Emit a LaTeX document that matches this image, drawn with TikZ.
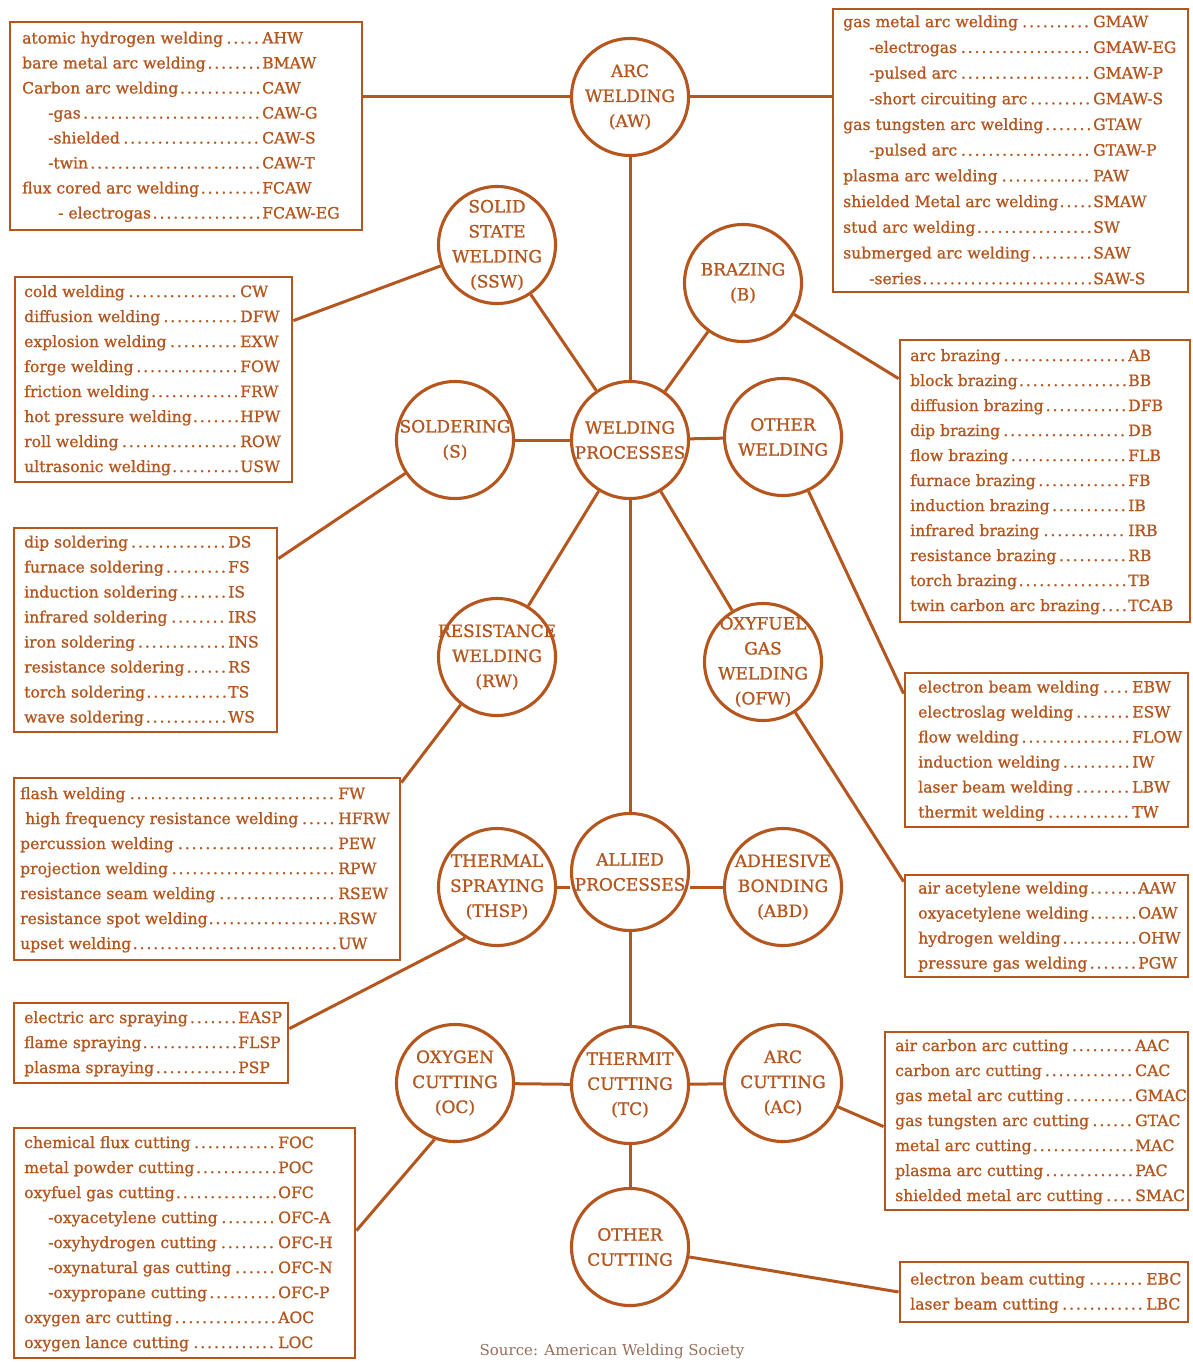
\documentclass[tikz,border=0pt]{standalone}
\usepackage{fontspec}
\setmainfont{DejaVu Serif}
\newfontface\heavyserif{DejaVu Serif}[FakeBold=1.1]
\usetikzlibrary{calc}
\definecolor{brn}{RGB}{180,86,30}
\definecolor{srcgray}{RGB}{150,112,92}
\newlength\abw
\newcommand\rw[2]{\makebox[\abw][l]{#1\dotfill}#2}
\newcommand\ri[3][26pt]{\makebox[\abw][l]{\hspace*{#1}#2\dotfill}#3}
\tikzset{
  wcirc/.style={circle, draw=brn, line width=3.1pt, minimum size=117pt, inner sep=0pt},
  ctxt/.style={text=brn, align=center, inner sep=0pt, font=\heavyserif\fontsize{17}{25}\selectfont},
  lbox/.style={draw=brn, line width=2.8pt, inner sep=0pt},
  btxt/.style={text=brn, anchor=west, inner sep=0pt, font=\heavyserif\fontsize{15.6}{25}\selectfont},
  link/.style={draw=brn, line width=3pt},
}
\begin{document}
\begin{tikzpicture}[x=1pt,y=-1pt]
\fill[white] (0,0) rectangle (1193,1362);
\useasboundingbox (0,0) rectangle (1193,1362);

% ---------- circles ----------
\node[wcirc] (aw)   at (630,97)   {};
\node[wcirc] (ssw)  at (497,245)  {};
\node[wcirc] (brz)  at (743,283)  {};
\node[wcirc] (sol)  at (455,440)  {};
\node[wcirc] (wp)   at (630,440)  {};
\node[wcirc] (oth)  at (783,437)  {};
\node[wcirc] (rw)   at (497,657)  {};
\node[wcirc] (ofw)  at (763,662)  {};
\node[wcirc] (ap)   at (630,872)  {};
\node[wcirc] (thsp) at (497,887)  {};
\node[wcirc] (abd)  at (783,887)  {};
\node[wcirc] (oc)   at (455,1083) {};
\node[wcirc] (tc)   at (630,1085) {};
\node[wcirc] (ac)   at (783,1083) {};
\node[wcirc] (ocut) at (630,1247) {};

\node[ctxt] (awt)   at (aw)   {ARC\\WELDING\\(AW)};
\node[ctxt] (sswt)  at (ssw)  {SOLID\\STATE\\WELDING\\(SSW)};
\node[ctxt] (brzt)  at (brz)  {BRAZING\\(B)};
\node[ctxt] (solt)  at (sol)  {SOLDERING\\(S)};
\node[ctxt] (wpt)   at (wp)   {WELDING\\PROCESSES};
\node[ctxt] (otht)  at (oth)  {OTHER\\WELDING};
\node[ctxt] (rwt)   at (rw)   {RESISTANCE\\WELDING\\(RW)};
\node[ctxt] (ofwt)  at (ofw)  {OXYFUEL\\GAS\\WELDING\\(OFW)};
\node[ctxt] (apt)   at (ap)   {ALLIED\\PROCESSES};
\node[ctxt] (thspt) at (thsp) {THERMAL\\SPRAYING\\(THSP)};
\node[ctxt] (abdt)  at (abd)  {ADHESIVE\\BONDING\\(ABD)};
\node[ctxt] (oct)   at (oc)   {OXYGEN\\CUTTING\\(OC)};
\node[ctxt] (tct)   at (tc)   {THERMIT\\CUTTING\\(TC)};
\node[ctxt] (act)   at (ac)   {ARC\\CUTTING\\(AC)};
\node[ctxt] (ocutt) at (ocut) {OTHER\\CUTTING};

% ---------- boxes ----------
\node[lbox, minimum width=352pt, minimum height=208pt] (b1)  at (186,126)    {};
\node[lbox, minimum width=355pt, minimum height=283pt] (b2)  at (1010.5,150.5) {};
\node[lbox, minimum width=277pt, minimum height=205pt] (b3)  at (153.5,379.5) {};
\node[lbox, minimum width=290pt, minimum height=282pt] (b4)  at (1045,481)   {};
\node[lbox, minimum width=263pt, minimum height=204pt] (b5)  at (145.5,630)  {};
\node[lbox, minimum width=283pt, minimum height=154pt] (b6)  at (1046.5,750) {};
\node[lbox, minimum width=386pt, minimum height=182pt] (b7)  at (207,869)    {};
\node[lbox, minimum width=283pt, minimum height=102pt] (b8)  at (1046.5,926) {};
\node[lbox, minimum width=274pt, minimum height=80pt]  (b9)  at (151,1043)   {};
\node[lbox, minimum width=303pt, minimum height=178pt] (b10) at (1036.5,1121) {};
\node[lbox, minimum width=341pt, minimum height=230pt] (b11) at (184.5,1243) {};
\node[lbox, minimum width=288pt, minimum height=60pt]  (b12) at (1044,1292)  {};

\node[btxt] (t1) at (22,126) {\setlength\abw{240pt}\begin{tabular}{@{}l@{}}
\rw{atomic hydrogen welding}{AHW}\\
\rw{bare metal arc welding}{BMAW}\\
\rw{Carbon arc welding}{CAW}\\
\ri{-gas}{CAW-G}\\
\ri{-shielded}{CAW-S}\\
\ri{-twin}{CAW-T}\\
\rw{flux cored arc welding}{FCAW}\\
\ri[36pt]{- electrogas}{FCAW-EG}
\end{tabular}};

\node[btxt, font=\heavyserif\fontsize{15.6}{25.7}\selectfont] (t2) at (843,150.5) {\setlength\abw{250pt}\begin{tabular}{@{}l@{}}
\rw{gas metal arc welding}{GMAW}\\
\ri{-electrogas}{GMAW-EG}\\
\ri{-pulsed arc}{GMAW-P}\\
\ri{-short circuiting arc}{GMAW-S}\\
\rw{gas tungsten arc welding}{GTAW}\\
\ri{-pulsed arc}{GTAW-P}\\
\rw{plasma arc welding}{PAW}\\
\rw{shielded Metal arc welding}{SMAW}\\
\rw{stud arc welding}{SW}\\
\rw{submerged arc welding}{SAW}\\
\ri{-series}{SAW-S}
\end{tabular}};

\node[btxt] (t3) at (24,379.5) {\setlength\abw{216pt}\begin{tabular}{@{}l@{}}
\rw{cold welding}{CW}\\
\rw{diffusion welding}{DFW}\\
\rw{explosion welding}{EXW}\\
\rw{forge welding}{FOW}\\
\rw{friction welding}{FRW}\\
\rw{hot pressure welding}{HPW}\\
\rw{roll welding}{ROW}\\
\rw{ultrasonic welding}{USW}
\end{tabular}};

\node[btxt] (t4) at (910,481) {\setlength\abw{218pt}\begin{tabular}{@{}l@{}}
\rw{arc brazing}{AB}\\
\rw{block brazing}{BB}\\
\rw{diffusion brazing}{DFB}\\
\rw{dip brazing}{DB}\\
\rw{flow brazing}{FLB}\\
\rw{furnace brazing}{FB}\\
\rw{induction brazing}{IB}\\
\rw{infrared brazing}{IRB}\\
\rw{resistance brazing}{RB}\\
\rw{torch brazing}{TB}\\
\rw{twin carbon arc brazing}{TCAB}
\end{tabular}};

\node[btxt] (t5) at (24,630) {\setlength\abw{204pt}\begin{tabular}{@{}l@{}}
\rw{dip soldering}{DS}\\
\rw{furnace soldering}{FS}\\
\rw{induction soldering}{IS}\\
\rw{infrared soldering}{IRS}\\
\rw{iron soldering}{INS}\\
\rw{resistance soldering}{RS}\\
\rw{torch soldering}{TS}\\
\rw{wave soldering}{WS}
\end{tabular}};

\node[btxt] (t6) at (918,750) {\setlength\abw{214pt}\begin{tabular}{@{}l@{}}
\rw{electron beam welding}{EBW}\\
\rw{electroslag welding}{ESW}\\
\rw{flow welding}{FLOW}\\
\rw{induction welding}{IW}\\
\rw{laser beam welding}{LBW}\\
\rw{thermit welding}{TW}
\end{tabular}};

\node[btxt] (t7) at (20,869) {\setlength\abw{318pt}\begin{tabular}{@{}l@{}}
\rw{flash welding}{FW}\\
\ri[5pt]{high frequency resistance welding}{HFRW}\\
\rw{percussion welding}{PEW}\\
\rw{projection welding}{RPW}\\
\rw{resistance seam welding}{RSEW}\\
\rw{resistance spot welding}{RSW}\\
\rw{upset welding}{UW}
\end{tabular}};

\node[btxt] (t8) at (918,926) {\setlength\abw{220pt}\begin{tabular}{@{}l@{}}
\rw{air acetylene welding}{AAW}\\
\rw{oxyacetylene welding}{OAW}\\
\rw{hydrogen welding}{OHW}\\
\rw{pressure gas welding}{PGW}
\end{tabular}};

\node[btxt] (t9) at (24,1043) {\setlength\abw{214pt}\begin{tabular}{@{}l@{}}
\rw{electric arc spraying}{EASP}\\
\rw{flame spraying}{FLSP}\\
\rw{plasma spraying}{PSP}
\end{tabular}};

\node[btxt] (t10) at (895,1121) {\setlength\abw{240pt}\begin{tabular}{@{}l@{}}
\rw{air carbon arc cutting}{AAC}\\
\rw{carbon arc cutting}{CAC}\\
\rw{gas metal arc cutting}{GMAC}\\
\rw{gas tungsten arc cutting}{GTAC}\\
\rw{metal arc cutting}{MAC}\\
\rw{plasma arc cutting}{PAC}\\
\rw{shielded metal arc cutting}{SMAC}
\end{tabular}};

\node[btxt] (t11) at (24,1243) {\setlength\abw{254pt}\begin{tabular}{@{}l@{}}
\rw{chemical flux cutting}{FOC}\\
\rw{metal powder cutting}{POC}\\
\rw{oxyfuel gas cutting}{OFC}\\
\ri[24pt]{-oxyacetylene cutting}{OFC-A}\\
\ri[24pt]{-oxyhydrogen cutting}{OFC-H}\\
\ri[24pt]{-oxynatural gas cutting}{OFC-N}\\
\ri[24pt]{-oxypropane cutting}{OFC-P}\\
\rw{oxygen arc cutting}{AOC}\\
\rw{oxygen lance cutting}{LOC}
\end{tabular}};

\node[btxt] (t12) at (910,1292) {\setlength\abw{236pt}\begin{tabular}{@{}l@{}}
\rw{electron beam cutting}{EBC}\\
\rw{laser beam cutting}{LBC}
\end{tabular}};

% ---------- connectors between circles ----------
\draw[link] (aw) -- (wp);
\draw[link] (ssw) -- (wp);
\draw[link] (brz) -- (wp);
\draw[link] (sol) -- (wp);
\draw[link] (wp) -- (oth);
\draw[link] (wp) -- (rw);
\draw[link] (wp) -- (ofw);
\draw[link] (wp) -- (ap);
\draw[link] (thsp.east) -- (thsp.east -| ap.west);
\draw[link] (abd.west) -- (abd.west -| ap.east);
\draw[link] (ap) -- (tc);
\draw[link] (oc) -- (tc);
\draw[link] (tc) -- (ac);
\draw[link] (tc) -- (ocut);

% ---------- connectors to boxes ----------
\draw[link] (aw.west) -- (aw.west -| b1.east);
\draw[link] (aw.east) -- (aw.east -| b2.west);
\draw[link] (ssw) -- ($(b3.north east)+(0,45)$);
\draw[link] (brz) -- ($(b4.north west)+(0,40)$);
\draw[link] (sol) -- ($(b5.north east)+(0,32)$);
\draw[link] (oth) -- ($(b6.north west)+(0,22)$);
\draw[link] (rw) -- ($(b7.north east)+(0,6)$);
\draw[link] (ofw) -- ($(b8.north west)+(0,8)$);
\draw[link] (thsp.238) -- ($(b9.north east)+(0,27)$);
\draw[link] (ac) -- ($(b10.north west)+(0,96)$);
\draw[link] (oc.250) -- ($(b11.north east)+(0,104)$);
\draw[link] (ocut) -- (b12.west);

% ---------- source note ----------
\node[text=srcgray, anchor=base, inner sep=0pt, font=\fontsize{15}{17}\selectfont] (srcnote) at (612,1355) {Source: American Welding Society};
\end{tikzpicture}
\end{document}
